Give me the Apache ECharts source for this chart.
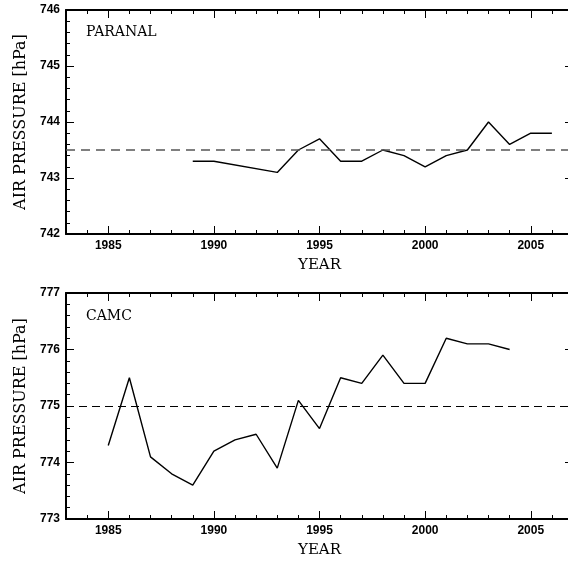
<!DOCTYPE html>
<html>
<head>
<meta charset="utf-8">
<script src="https://cdn.jsdelivr.net/npm/echarts@6/dist/echarts.min.js"></script>
<style>
  html, body { margin: 0; padding: 0; background: #fff; }
  #chart { width: 568px; height: 561px; }
</style>
</head>
<body>
<div id="chart"></div>
<script>
// Annual mean air pressure at two sites
const paranalYears = [1989, 1990, 1993, 1994, 1995, 1996, 1997, 1998, 1999, 2000, 2001, 2002, 2003, 2004, 2005, 2006];
const paranalPressure = [743.3, 743.3, 743.1, 743.5, 743.7, 743.3, 743.3, 743.5, 743.4, 743.2, 743.4, 743.5, 744.0, 743.6, 743.8, 743.8];
const paranalMean = 743.5;

const camcYears = [1985, 1986, 1987, 1988, 1989, 1990, 1991, 1992, 1993, 1994, 1995, 1996, 1997, 1998, 1999, 2000, 2001, 2002, 2003, 2004];
const camcPressure = [774.3, 775.5, 774.1, 773.8, 773.6, 774.2, 774.4, 774.5, 773.9, 775.1, 774.6, 775.5, 775.4, 775.9, 775.4, 775.4, 776.2, 776.1, 776.1, 776.0];
const camcMean = 775.0;

const yearTicks = [1985, 1990, 1995, 2000, 2005];
const yearRange = [1983, 2007];
const paranalRange = [742, 746];
const camcRange = [773, 777];

const labelFont = { fontFamily: 'Liberation Sans', fontSize: 12, fontWeight: 'bold', color: '#000' };
const titleFont = { fontFamily: 'DejaVu Serif', fontSize: 15, color: '#000' };
const frame = { show: true, onZero: false, lineStyle: { color: '#000', width: 2 } };
const plainYear = v => String(Math.round(v));

// Four stacked x axes per panel: minor ticks + frame, major ticks + labels, mirrored on top
function xAxesFor(g) {
  return [
    { gridIndex: g, type: 'value', min: yearRange[0], max: yearRange[1], interval: 1, position: 'bottom',
      axisLine: frame, axisTick: { inside: true, length: 4, lineStyle: { color: '#000', width: 1 } },
      axisLabel: { show: false }, splitLine: { show: false },
      name: 'YEAR', nameLocation: 'middle', nameGap: 24, nameTextStyle: titleFont },
    { gridIndex: g, type: 'value', min: yearRange[0], max: yearRange[1], position: 'bottom',
      axisLine: { show: false, onZero: false },
      axisTick: { inside: true, length: 8, customValues: yearTicks, lineStyle: { color: '#000', width: 1 } },
      axisLabel: Object.assign({ customValues: yearTicks, margin: 6, formatter: plainYear }, labelFont),
      splitLine: { show: false } },
    { gridIndex: g, type: 'value', min: yearRange[0], max: yearRange[1], interval: 1, position: 'top',
      axisLine: frame, axisTick: { inside: true, length: 4, lineStyle: { color: '#000', width: 1 } },
      axisLabel: { show: false }, splitLine: { show: false } },
    { gridIndex: g, type: 'value', min: yearRange[0], max: yearRange[1], position: 'top',
      axisLine: { show: false, onZero: false },
      axisTick: { inside: true, length: 8, customValues: yearTicks, lineStyle: { color: '#000', width: 1 } },
      axisLabel: { show: false }, splitLine: { show: false } }
  ];
}

function yAxesFor(g, range) {
  const common = {
    gridIndex: g, type: 'value', min: range[0], max: range[1], interval: 1,
    axisLine: frame,
    axisTick: { inside: true, length: 8, lineStyle: { color: '#000', width: 1 } },
    minorTick: { show: true, splitNumber: 5, length: 4, lineStyle: { color: '#000', width: 1 } },
    splitLine: { show: false }, minorSplitLine: { show: false }
  };
  return [
    Object.assign({}, common, { position: 'left',
      axisLabel: Object.assign({ margin: 6 }, labelFont),
      name: 'AIR PRESSURE [hPa]', nameLocation: 'middle', nameGap: 36,
      nameTextStyle: Object.assign({}, titleFont, { fontSize: 16 }) }),
    Object.assign({}, common, { position: 'right', axisLabel: { show: false } })
  ];
}

function meanLine(value, color, dash, width) {
  return {
    silent: true, symbol: ['none', 'none'], label: { show: false },
    lineStyle: { color: color, type: dash, width: width },
    emphasis: { disabled: true },
    data: [{ yAxis: value }]
  };
}

const chart = echarts.init(document.getElementById('chart'), null, { renderer: 'canvas' });
chart.setOption({
  animation: false,
  backgroundColor: '#fff',
  title: [
    { text: 'PARANAL', left: 86, top: 25, padding: 0, textStyle: Object.assign({ fontWeight: 'normal' }, titleFont, { fontSize: 14 }) },
    { text: 'CAMC', left: 86, top: 309, padding: 0, textStyle: Object.assign({ fontWeight: 'normal' }, titleFont, { fontSize: 14 }) }
  ],
  grid: [
    { left: 66, top: 10, width: 507, height: 224, outerBoundsMode: 'none' },
    { left: 66, top: 293, width: 507, height: 226, outerBoundsMode: 'none' }
  ],
  xAxis: xAxesFor(0).concat(xAxesFor(1)),
  yAxis: yAxesFor(0, paranalRange).concat(yAxesFor(1, camcRange)),
  series: [
    { type: 'line', xAxisIndex: 0, yAxisIndex: 0, showSymbol: false, silent: true,
      lineStyle: { color: '#000', width: 1.4 },
      data: paranalYears.map((y, i) => [y, paranalPressure[i]]),
      markLine: meanLine(paranalMean, '#555', [9, 6], 1.5) },
    { type: 'line', xAxisIndex: 4, yAxisIndex: 2, showSymbol: false, silent: true,
      lineStyle: { color: '#000', width: 1.4 },
      data: camcYears.map((y, i) => [y, camcPressure[i]]),
      markLine: meanLine(camcMean, '#000', [8, 5], 1.2) }
  ]
});
</script>
</body>
</html>
